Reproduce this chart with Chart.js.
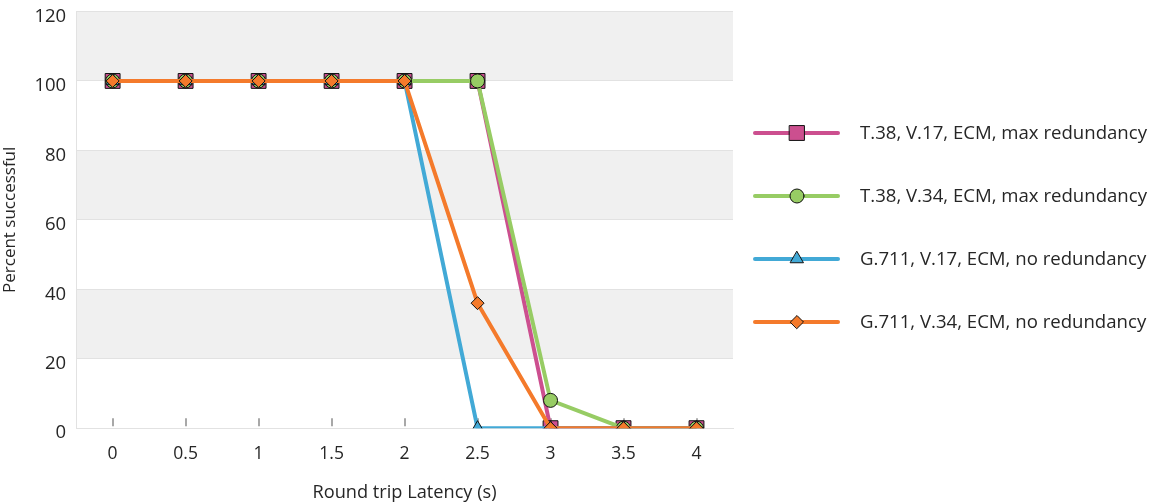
<!doctype html>
<html><head><meta charset="utf-8">
<script src="https://cdn.jsdelivr.net/npm/chart.js@4.4.0/dist/chart.umd.min.js"></script>
<style>
  html,body{margin:0;padding:0;background:#fff}
  #wrap{width:1158px;height:504px}
</style></head><body>
<div id="wrap"><canvas id="c" width="1158" height="504"></canvas></div>
<script>
// 지연 시간별 전송 성공률
const LATENCY = ['0', '0.5', '1', '1.5', '2', '2.5', '3', '3.5', '4'];
const SERIES_NAMES = [
  'T.38, V.17, ECM, max redundancy',
  'T.38, V.34, ECM, max redundancy',
  'G.711, V.17, ECM, no redundancy',
  'G.711, V.34, ECM, no redundancy'
];
const T38_V17 = [100, 100, 100, 100, 100, 100, 0, 0, 0];
const T38_V34 = [100, 100, 100, 100, 100, 100, 8, 0, 0];
const G711_V17 = [100, 100, 100, 100, 100, 0, 0, 0, 0];
const G711_V34 = [100, 100, 100, 100, 100, 36, 0, 0, 0];
const Y_TICKS = [0, 20, 40, 60, 80, 100, 120];

const FONT = '"Open Sans", Lato, sans-serif';
const TXT = '#262626';
const COLORS = ['#cc4f8f', '#97cc64', '#42a9d6', '#f47a2b'];
const STYLES = ['rect', 'circle', 'triangle', 'rectRot'];
const RADII = [10.5, 7, 7.5, 6.5];

const datasets = [T38_V17, T38_V34, G711_V17, G711_V34].map((d, i) => ({
  label: SERIES_NAMES[i],
  data: d,
  borderColor: COLORS[i],
  backgroundColor: COLORS[i],
  pointBackgroundColor: COLORS[i],
  pointBorderColor: '#111',
  pointBorderWidth: 1,
  pointStyle: STYLES[i],
  pointRadius: RADII[i],
  pointHoverRadius: RADII[i],
  borderWidth: 4,
  tension: 0,
  order: 4 - i
}));

// 배경 띠 + x축 안쪽 눈금
const bandsPlugin = {
  id: 'bands',
  beforeDraw(chart) {
    const { ctx, chartArea: a, scales: { y } } = chart;
    ctx.save();
    ctx.fillStyle = '#f0f0f0';
    for (let i = 0; i < Y_TICKS.length - 1; i++) {
      if ((Y_TICKS.length - 2 - i) % 2 !== 0) continue;
      const top = y.getPixelForValue(Y_TICKS[i + 1]);
      const bot = y.getPixelForValue(Y_TICKS[i]);
      ctx.fillRect(a.left, top, a.right - a.left, bot - top);
    }
    ctx.restore();
  },
  beforeDatasetsDraw(chart) {
    const { ctx, chartArea: a, scales: { x } } = chart;
    ctx.save();
    ctx.strokeStyle = '#a8a8a8';
    ctx.lineWidth = 2;
    LATENCY.forEach((_, i) => {
      const px = Math.round(x.getPixelForValue(i));
      ctx.beginPath();
      ctx.moveTo(px, a.bottom - 2);
      ctx.lineTo(px, a.bottom - 10);
      ctx.stroke();
    });
    ctx.restore();
  }
};

// 오른쪽 범례 (선 + 마커)
const legendPlugin = {
  id: 'sideLegend',
  afterDraw(chart) {
    const { ctx } = chart;
    ctx.save();
    chart.data.datasets.forEach((ds, i) => {
      const y = 133 + i * 63;
      ctx.strokeStyle = ds.borderColor;
      ctx.lineWidth = 4;
      ctx.lineCap = 'round';
      ctx.beginPath();
      ctx.moveTo(755, y);
      ctx.lineTo(838, y);
      ctx.stroke();
      ctx.fillStyle = ds.backgroundColor;
      ctx.strokeStyle = '#111';
      ctx.lineWidth = 1;
      Chart.helpers.drawPoint(ctx, { pointStyle: ds.pointStyle, radius: ds.pointRadius, rotation: 0, borderWidth: 1 }, 797, y);
      ctx.fillStyle = TXT;
      ctx.font = '18.6px ' + FONT;
      ctx.textBaseline = 'middle';
      ctx.fillText(ds.label, 860, y + 1);
    });
    ctx.restore();
  }
};

new Chart(document.getElementById('c'), {
  type: 'line',
  data: { labels: LATENCY, datasets },
  options: {
    responsive: false,
    animation: false,
    layout: { padding: { top: 10, right: 425, left: 0, bottom: 0 } },
    plugins: { legend: { display: false }, tooltip: { enabled: false } },
    scales: {
      x: {
        offset: true,
        grid: { display: false, drawTicks: false },
        border: { display: true, color: '#e2e2e2', width: 1 },
        ticks: { color: TXT, font: { family: FONT, size: 17.5 }, padding: 15 },
        title: { display: true, text: 'Round trip Latency (s)', color: TXT, font: { family: FONT, size: 18.2 }, padding: { top: 3, bottom: 0 } }
      },
      y: {
        min: 0, max: 120,
        ticks: { stepSize: 20, color: TXT, font: { family: FONT, size: 18.5, lineHeight: 0.1 }, padding: 10, labelOffset: 5 },
        grid: { color: '#e2e2e2', drawTicks: false },
        border: { display: true, color: '#e2e2e2' },
        title: { display: true, text: 'Percent successful', color: TXT, font: { family: FONT, size: 17 }, padding: { top: 0, bottom: 4 } }
      }
    }
  },
  plugins: [bandsPlugin, legendPlugin]
});
</script>
</body></html>
